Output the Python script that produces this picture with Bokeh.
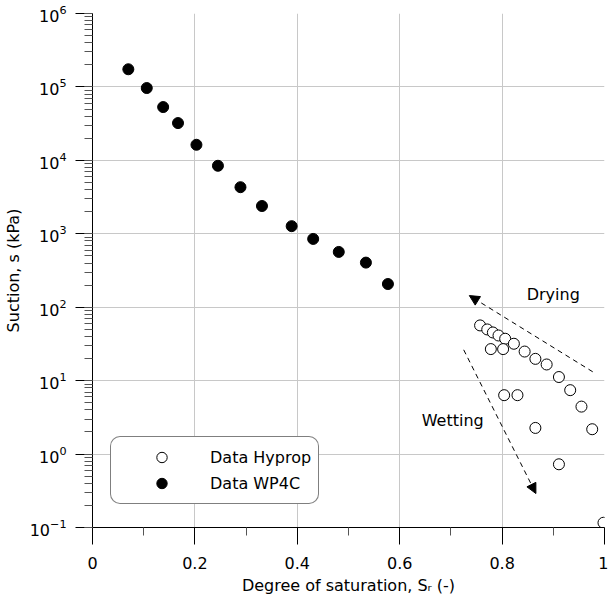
# suction vs degree of saturation (water retention data)
from bokeh.plotting import figure
from bokeh.models import (Range1d, FixedTicker, CustomJSTickFormatter, Legend, LegendItem,
                          Label, Arrow, NormalHead)
from bokeh.embed import file_html
from bokeh.resources import INLINE

# WP4C data (filled)
wp4c_sr = [0.070, 0.106, 0.138, 0.167, 0.203, 0.245, 0.289, 0.331, 0.389, 0.431, 0.481, 0.534, 0.577]
wp4c_s = [174000, 96600, 53200, 32200, 16300, 8440, 4310, 2390, 1270, 851, 566, 405, 207]

# Hyprop data (open)
hyprop_sr = [0.757, 0.771, 0.782, 0.793, 0.806, 0.823, 0.778, 0.802, 0.844, 0.865, 0.887,
             0.911, 0.933, 0.955, 0.976, 0.804, 0.830, 0.865, 0.911, 0.998]
hyprop_s = [56.5, 49.8, 45.3, 41.2, 37.2, 31.8, 26.9, 26.9, 24.9, 19.8, 16.6,
            11.2, 7.42, 4.43, 2.18, 6.34, 6.34, 2.27, 0.726, 0.116]

# axis ticks
x_ticks = [0, 0.2, 0.4, 0.6, 0.8, 1]
x_minor = [0.1, 0.3, 0.5, 0.7, 0.9]

# arrows (start -> end) and their labels
drying_arrow = (0.977, 13.2, 0.736, 144)
wetting_arrow = (0.725, 26.3, 0.866, 0.29)
drying_label = (0.848, 150, "Drying")
wetting_label = (0.643, 2.85, "Wetting")

FONT = "DejaVu Sans"

p = figure(width=608, height=605, y_axis_type="log",
           x_range=Range1d(0, 1), y_range=Range1d(0.1, 1e6),
           output_backend="svg", toolbar_location=None,
           min_border_left=91, min_border_right=4, min_border_top=13, min_border_bottom=78)
p.outline_line_color = None

# axes
p.xaxis.ticker = FixedTicker(ticks=x_ticks, minor_ticks=x_minor)
p.xaxis.formatter = CustomJSTickFormatter(code="return tick.toString()")
p.xaxis.axis_label = "Degree of saturation, S\u1d63 (-)"
p.yaxis.axis_label = "Suction, s (kPa)"
for ax in p.axis:
    ax.axis_label_text_font = FONT
    ax.axis_label_text_font_size = "16px"
    ax.axis_label_text_font_style = "normal"
    ax.axis_label_text_color = "black"
    ax.major_label_text_font = FONT
    ax.major_label_text_font_size = "16px"
    ax.major_label_text_color = "black"
    ax.axis_line_color = "black"
    ax.major_tick_line_color = "black"
    ax.minor_tick_line_color = "#555555"
    ax.major_tick_in = 0
    ax.minor_tick_in = 0
    ax.major_tick_out = 17
    ax.minor_tick_out = 8
p.yaxis.major_label_standoff = 9
p.yaxis.axis_label_standoff = 4
p.xaxis.major_label_standoff = 12
p.xaxis.axis_label_standoff = 4

p.xgrid.grid_line_color = "#c8c8c8"
p.ygrid.grid_line_color = "#c8c8c8"

# data
hyp = p.scatter(hyprop_sr, hyprop_s, size=11, marker="circle",
                fill_color="white", line_color="black", line_width=1)
wp = p.scatter(wp4c_sr, wp4c_s, size=11, marker="circle",
               fill_color="black", line_color="black")

# drying / wetting arrows
for (x0, y0, x1, y1) in (drying_arrow, wetting_arrow):
    p.add_layout(Arrow(x_start=x0, y_start=y0, x_end=x1, y_end=y1,
                       line_color="black", line_width=1, line_dash="5 4",
                       end=NormalHead(size=10, fill_color="black", line_color="black")))
for (lx, ly, txt) in (drying_label, wetting_label):
    p.add_layout(Label(x=lx, y=ly, text=txt, text_font=FONT, text_font_size="16px",
                       text_color="black", text_baseline="middle", text_align="left"))

# legend
legend = Legend(items=[LegendItem(label="Data Hyprop", renderers=[hyp]),
                       LegendItem(label="Data WP4C", renderers=[wp])],
                location=(18, 23), padding=7, spacing=0,
                glyph_width=87, glyph_height=26, label_standoff=5,
                label_text_font=FONT, label_text_font_size="16px", label_text_color="black",
                border_line_color="black", border_line_width=1,
                background_fill_alpha=1, margin=0)
if "border_radius" in Legend.properties():
    legend.border_radius = 10
p.add_layout(legend)

open("out.html", "w").write(file_html(p, INLINE))
